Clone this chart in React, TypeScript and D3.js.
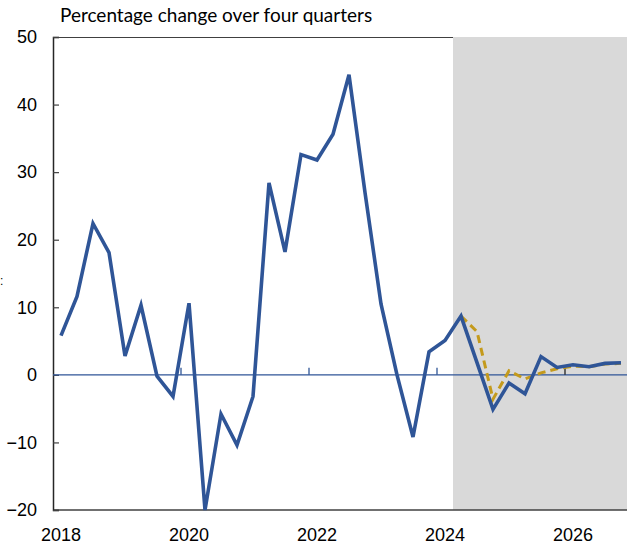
import * as d3 from "d3";
import { useEffect, useRef } from "react";

// quarterly data, 2018Q1 .. 2026Q4
const years = [2018, 2019, 2020, 2021, 2022, 2023, 2024, 2025, 2026];
const quarters = years.flatMap((y) => [1, 2, 3, 4].map((q) => `${y}Q${q}`));

const actual = [
  5.8, 11.6, 22.4, 18.1, 2.8, 10.3, -0.2, -3.2, 10.6, -20, -5.8, -10.4, -3.2,
  28.4, 18.2, 32.6, 31.8, 35.6, 44.4, 27, 10.5, 0, -9.2, 3.4, 5.1, 8.7, 1.8,
  -5.1, -1.2, -2.8, 2.7, 1.1, 1.5, 1.2, 1.7, 1.8,
];

// alternative projection, starts from 2024Q2
const altStart = "2024Q2";
const alternative = [8.7, 6.4, -3.6, 0.6, -0.6, 0.3, 0.9, 1.3, 1.2, 1.6, 1.7];

const yTicks = [50, 40, 30, 20, 10, 0, -10, -20];
const xLabels = [2018, 2020, 2022, 2024, 2026];
const yearTicks = [2020, 2022, 2024, 2026];
const forecastFrom = "2024Q2";

const WIDTH = 627;
const HEIGHT = 546;
const margin = { top: 37, right: -2, bottom: 36, left: 53 };

const BLUE = "#2f5597";
const GOLD = "#c49a1c";

const App = () => {
  const svgRef = useRef<SVGSVGElement>(null);

  useEffect(() => {
    const svg = d3.select(svgRef.current);
    svg.selectAll("*").remove();

    const x0 = margin.left;
    const x1 = WIDTH - margin.right;
    const y0 = margin.top;
    const y1 = HEIGHT - margin.bottom;

    const x = d3.scaleBand<string>().domain(quarters).range([x0, x1]);
    const mid = (q: string) => (x(q) ?? 0) + x.bandwidth() / 2;
    const y = d3.scaleLinear().domain([-20, 50]).range([y1, y0]);

    // forecast shading
    svg
      .append("rect")
      .attr("x", x(forecastFrom)!)
      .attr("y", y0)
      .attr("width", x1 - x(forecastFrom)!)
      .attr("height", y1 - y0)
      .attr("fill", "#d9d9d9");

    // frame top + bottom
    svg
      .append("line")
      .attr("x1", x0)
      .attr("x2", x(forecastFrom)!)
      .attr("y1", y0 + 0.5)
      .attr("y2", y0 + 0.5)
      .attr("stroke", "#404040")
      .attr("stroke-width", 1.2);
    svg
      .append("line")
      .attr("x1", x0)
      .attr("x2", x1)
      .attr("y1", y1)
      .attr("y2", y1)
      .attr("stroke", "#404040")
      .attr("stroke-width", 1.5);

    // y axis
    const yAxis = svg
      .append("g")
      .attr("transform", `translate(${x0},0)`)
      .call(d3.axisLeft(y).tickValues(yTicks).tickSize(-6).tickPadding(16));
    yAxis.select(".domain").attr("stroke", "#262626").attr("stroke-width", 1.5);
    yAxis.selectAll(".tick line").attr("stroke", "#404040").attr("stroke-width", 1.2);
    yAxis
      .selectAll("text")
      .attr("font-family", "Liberation Sans, Arial, sans-serif")
      .attr("font-size", 18)
      .attr("fill", "#000");

    // zero line with year ticks
    svg
      .append("line")
      .attr("x1", x0)
      .attr("x2", x1)
      .attr("y1", y(0))
      .attr("y2", y(0))
      .attr("stroke", BLUE)
      .attr("stroke-width", 1.3);
    svg
      .selectAll(".ytick")
      .data(yearTicks)
      .enter()
      .append("line")
      .attr("x1", (d) => x(`${d}Q1`)!)
      .attr("x2", (d) => x(`${d}Q1`)!)
      .attr("y1", y(0) - 7)
      .attr("y2", y(0))
      .attr("stroke", (d) => (d >= 2025 ? "#222" : BLUE))
      .attr("stroke-width", 1.3);

    // x labels
    svg
      .selectAll(".xlab")
      .data(xLabels)
      .enter()
      .append("text")
      .attr("x", (d) => mid(`${d}Q1`))
      .attr("y", 541)
      .attr("text-anchor", "middle")
      .attr("font-family", "Liberation Sans, Arial, sans-serif")
      .attr("font-size", 18)
      .text((d) => d);

    // alternative (dashed)
    const altQ = quarters.slice(quarters.indexOf(altStart));
    const line = d3
      .line<[string, number]>()
      .x((d) => mid(d[0]))
      .y((d) => y(d[1]));
    svg
      .append("path")
      .datum(altQ.map((q, i) => [q, alternative[i]] as [string, number]))
      .attr("fill", "none")
      .attr("stroke", GOLD)
      .attr("stroke-width", 3)
      .attr("stroke-dasharray", "8,5")
      .attr("d", line);

    // actual + baseline
    svg
      .append("path")
      .datum(quarters.map((q, i) => [q, actual[i]] as [string, number]))
      .attr("fill", "none")
      .attr("stroke", BLUE)
      .attr("stroke-width", 3.6)
      .attr("stroke-linejoin", "miter")
      .attr("d", line);

    // title
    svg
      .append("text")
      .attr("x", 60)
      .attr("y", 22)
      .attr("font-family", "Lato, Carlito, sans-serif")
      .attr("font-size", 19)
      .attr("fill", "#000")
      .text("Percentage change over four quarters");

    // stray mark at left edge
    svg
      .append("text")
      .attr("x", 0)
      .attr("y", 285)
      .attr("font-family", "Liberation Sans, Arial, sans-serif")
      .attr("font-size", 12)
      .text(":");
  }, []);

  return (
    <div style={{ position: "absolute", left: 0, top: 0 }}>
      <svg ref={svgRef} width={WIDTH} height={HEIGHT} style={{ display: "block", background: "#fff" }} />
    </div>
  );
};

export default App;
